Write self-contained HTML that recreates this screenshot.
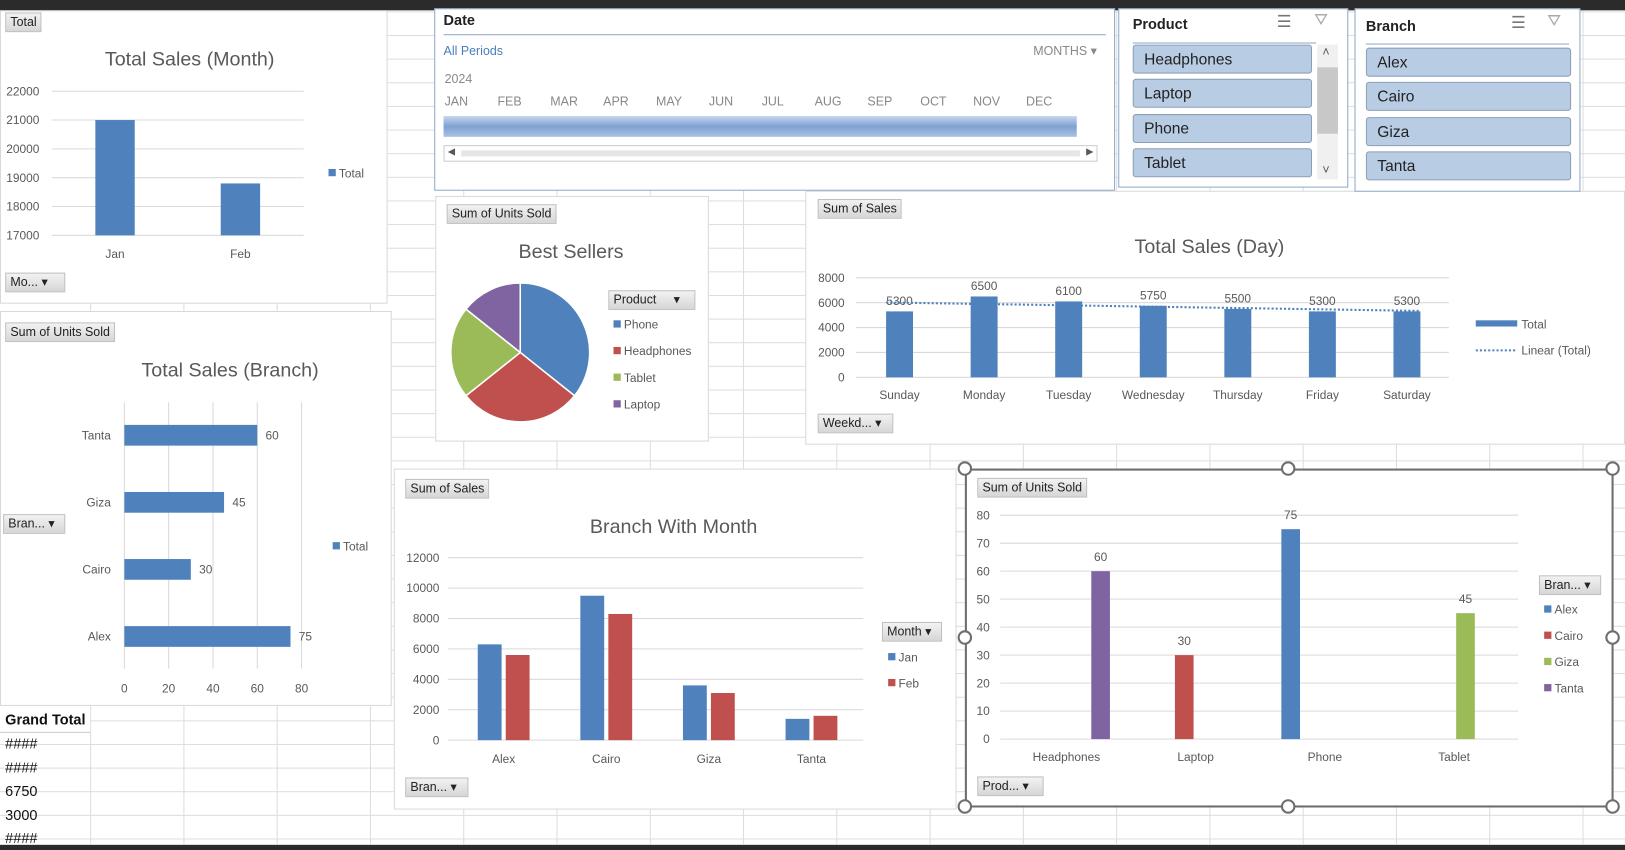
<!DOCTYPE html>
<html><head><meta charset="utf-8">
<style>
html,body{margin:0;padding:0;width:1625px;height:850px;overflow:hidden;background:#2b2b2b}
#stage{position:absolute;left:0;top:0;width:1568px;height:820px;transform:scale(1.03635,1.0366);transform-origin:0 0;font-family:"Liberation Sans",sans-serif;color:#595959}
#sheet{position:absolute;left:0;top:10px;width:1568px;height:805px;background-color:#fff;
background-image:linear-gradient(to right,#dcdcdc 1px,transparent 1px),linear-gradient(to bottom,#dcdcdc 1px,transparent 1px);
background-size:90px 22.8px;background-position:-3px 1px}
.panel{position:absolute;background:#fff;border:1px solid #d9d9d9;box-sizing:border-box}
.btn{position:absolute;background:linear-gradient(#f2f2f2,#d6d6d6);border:1px solid #bfbfbf;font-size:12px;color:#222;box-sizing:border-box;padding:1px 4px;line-height:15px;white-space:nowrap}
.slicer{position:absolute;background:#fff;border:1px solid #8fa9c9;box-sizing:border-box}
.item{position:absolute;background:#b8cce4;border:1px solid #8c9fb8;border-radius:3px;box-sizing:border-box;font-size:15px;color:#222;padding:5px 10px 0;height:28px;line-height:17px}
.hdr{position:absolute;font-weight:bold;font-size:14px;color:#222}
.cell{position:absolute;left:5px;font-size:14px;color:#111}
</style></head>
<body>
<div id="stage">
<div id="sheet"></div>

<div class="panel" style="left:0;top:10px;width:374px;height:283px"></div>
<div class="panel" style="left:0;top:300px;width:378px;height:381px"></div>
<div class="panel" style="left:420px;top:189px;width:264px;height:237px"></div>
<div class="panel" style="left:777px;top:184px;width:791px;height:245px"></div>
<div class="panel" style="left:380px;top:452px;width:543px;height:329px"></div>
<div class="panel" style="left:931px;top:452px;width:626px;height:327px;border:2px solid #6e6e6e"></div>

<div style="position:absolute;left:0;top:684px;width:87px;height:22px;background:#fff;border-bottom:1px solid #ccc"><span style="position:absolute;left:5px;top:2px;font-weight:bold;font-size:14px;color:#111">Grand Total</span></div>
<div class="cell" style="top:709px">####</div>
<div class="cell" style="top:732px">####</div>
<div class="cell" style="top:755px">6750</div>
<div class="cell" style="top:778px">3000</div>
<div class="cell" style="top:800px">####</div>

<div class="slicer" style="left:419px;top:8px;width:657px;height:176px">
 <div class="hdr" style="left:8px;top:2px">Date</div>
 <div style="position:absolute;left:8px;right:8px;top:24px;height:1px;background:#8fa9c9"></div>
 <div style="position:absolute;left:8px;top:33px;font-size:12px;color:#4a7ebb">All Periods</div>
 <div style="position:absolute;left:577px;top:33px;font-size:12px;color:#888">MONTHS ▾</div>
 <div style="position:absolute;left:9px;top:60px;font-size:12px;color:#888">2024</div>
 <div id="months" style="position:absolute;left:9px;top:82px;font-size:12px;color:#888"></div>
 <div style="position:absolute;left:8px;top:103px;width:611px;height:20px;background:linear-gradient(#c5d6ec,#7fa1d3 50%,#aac2e4)"></div>
 <div style="position:absolute;left:8px;top:131px;width:631px;height:16px;border:1px solid #ccc;box-sizing:border-box"><div style="position:absolute;left:16px;right:16px;top:4px;height:6px;background:#e6e6e6"></div><span style="position:absolute;left:3px;top:0;font-size:9px">◀</span><span style="position:absolute;right:3px;top:0;font-size:9px">▶</span></div>
</div>

<div class="slicer" style="left:1079px;top:8px;width:222px;height:173px">
 <div class="hdr" style="left:13px;top:6px">Product</div>
 <div style="position:absolute;left:152px;top:2px;font-size:16px;color:#777">☰</div>
 <div style="position:absolute;left:188px;top:2px;font-size:16px;color:#aaa">⛛</div>
 <div style="position:absolute;left:13px;right:30px;top:32px;height:1px;background:#8fa9c9"></div>
 <div class="item" style="left:13px;top:34px;width:173px">Headphones</div>
 <div class="item" style="left:13px;top:67px;width:173px">Laptop</div>
 <div class="item" style="left:13px;top:101px;width:173px">Phone</div>
 <div class="item" style="left:13px;top:134px;width:173px">Tablet</div>
 <div style="position:absolute;left:191px;top:34px;width:20px;height:130px;background:#f0f0f0"><div style="position:absolute;top:22px;left:0;width:20px;height:64px;background:#c8c8c8"></div><span style="position:absolute;left:5px;top:0;font-size:12px">˄</span><span style="position:absolute;left:5px;bottom:2px;font-size:12px">˅</span></div>
</div>

<div class="slicer" style="left:1307px;top:8px;width:218px;height:177px">
 <div class="hdr" style="left:10px;top:8px">Branch</div>
 <div style="position:absolute;left:150px;top:3px;font-size:16px;color:#777">☰</div>
 <div style="position:absolute;left:185px;top:3px;font-size:16px;color:#aaa">⛛</div>
 <div style="position:absolute;left:10px;right:10px;top:33px;height:1px;background:#8fa9c9"></div>
 <div class="item" style="left:10px;top:37px;width:198px">Alex</div>
 <div class="item" style="left:10px;top:70px;width:198px">Cairo</div>
 <div class="item" style="left:10px;top:104px;width:198px">Giza</div>
 <div class="item" style="left:10px;top:137px;width:198px">Tanta</div>
</div>

<div class="btn" style="left:5px;top:12px">Total</div>
<div class="btn" style="left:5px;top:263px;width:58px">Mo... ▾</div>
<div class="btn" style="left:5px;top:311px">Sum of Units Sold</div>
<div class="btn" style="left:3px;top:496px;width:60px">Bran... ▾</div>
<div class="btn" style="left:431px;top:197px">Sum of Units Sold</div>
<div class="btn" style="left:587px;top:280px;width:84px">Product &nbsp;&nbsp;&nbsp;&nbsp;▾</div>
<div class="btn" style="left:789px;top:192px">Sum of Sales</div>
<div class="btn" style="left:789px;top:399px;width:73px">Weekd... ▾</div>
<div class="btn" style="left:391px;top:462px">Sum of Sales</div>
<div class="btn" style="left:851px;top:600px;width:58px">Month ▾</div>
<div class="btn" style="left:391px;top:750px;width:61px">Bran... ▾</div>
<div class="btn" style="left:943px;top:461px">Sum of Units Sold</div>
<div class="btn" style="left:1485px;top:555px;width:60px">Bran... ▾</div>
<div class="btn" style="left:943px;top:749px;width:64px">Prod... ▾</div>

<svg id="charts" width="1568" height="820" style="position:absolute;left:0;top:0;font-family:'Liberation Sans',sans-serif"></svg>
</div>

<script>
const monthCats = ["Jan","Feb"];
const monthVals = [21000,18800];
const monthTicks = [17000,18000,19000,20000,21000,22000];
const branchCats = ["Alex","Cairo","Giza","Tanta"];
const branchUnits = [75,30,45,60];
const branchTicks = [0,20,40,60,80];
const pieCats = ["Phone","Headphones","Tablet","Laptop"];
const pieVals = [75,60,45,30];
const dayCats = ["Sunday","Monday","Tuesday","Wednesday","Thursday","Friday","Saturday"];
const dayVals = [5300,6500,6100,5750,5500,5300,5300];
const dayTicks = [0,2000,4000,6000,8000];
const bmCats = ["Alex","Cairo","Giza","Tanta"];
const bmJan = [6300,9500,3600,1400];
const bmFeb = [5600,8300,3100,1600];
const bmTicks = [0,2000,4000,6000,8000,10000,12000];
const upCats = ["Headphones","Laptop","Phone","Tablet"];
const upAlex = [0,0,75,0];
const upCairo = [0,30,0,0];
const upGiza = [0,0,0,45];
const upTanta = [60,0,0,0];
const upTicks = [0,10,20,30,40,50,60,70,80];
const monthsTL = ["JAN","FEB","MAR","APR","MAY","JUN","JUL","AUG","SEP","OCT","NOV","DEC"];

const BLUE="#4f81bd",RED="#c0504d",GREEN="#9bbb59",PURPLE="#8064a2",GRID="#d9d9d9",TXT="#595959",FS=11.5;
const svg=document.getElementById('charts');
const NS="http://www.w3.org/2000/svg";
function mk(tag,at,txt){const e=document.createElementNS(NS,tag);for(const k in at)e.setAttribute(k,at[k]);if(txt!==undefined)e.textContent=txt;svg.appendChild(e);return e;}
function lin(d0,d1,r0,r1){return v=>r0+(v-d0)*(r1-r0)/(d1-d0);}

const mdiv=document.getElementById('months');
monthsTL.forEach((m,i)=>{const s=document.createElement('span');s.textContent=m;s.style.position='absolute';s.style.left=(i*51)+'px';


mdiv.appendChild(s);});

function title(x,y,t,name){const e=mk('text',{x:x,y:y,'text-anchor':'middle','font-size':19,fill:TXT},t);

}
function legend(x,y,color,t,dotted){let e;
if(dotted){e=mk('line',{x1:x,y1:y-4,x2:x+40,y2:y-4,stroke:BLUE,'stroke-width':2,'stroke-dasharray':'2,2'});}
else if(dotted===false){e=mk('rect',{x:x,y:y-8,width:40,height:6,fill:color});}
else e=mk('rect',{x:x,y:y-8,width:7,height:7,fill:color});


const tx=mk('text',{x:x+(dotted!==undefined?44:10),y:y,'font-size':FS,fill:TXT},t);

}
function yAxis(ticks,y,xr,x0,x1,name){ticks.forEach(t=>{const g=mk('line',{x1:x0,y1:y(t),x2:x1,y2:y(t),stroke:GRID});


const l=mk('text',{x:xr,y:y(t)+4,'text-anchor':'end','font-size':FS,fill:TXT},t);

});}
function xLabel(x,y,t){const l=mk('text',{x:x,y:y,'text-anchor':'middle','font-size':FS,fill:TXT},t);

}

title(183,63,"Total Sales (Month)","month-chart-title");
{const y=lin(17000,22000,227,88);yAxis(monthTicks,y,38,50,293,'y-axis-tick');
const xc=i=>111+i*121;
monthVals.forEach((v,i)=>{const b=mk('rect',{x:xc(i)-19,y:y(v),width:38,height:y(17000)-y(v),fill:BLUE});


xLabel(xc(i),249,monthCats[i]);});
legend(317,171,BLUE,"Total");}

title(222,363,"Total Sales (Branch)","branch-chart-title");
{const x=lin(0,80,120,291);const yc=i=>614-i*64.7;
branchTicks.forEach(t=>{const g=mk('line',{x1:x(t),y1:388,x2:x(t),y2:645,stroke:GRID});


xLabel(x(t),668,t);});
branchUnits.forEach((v,i)=>{const b=mk('rect',{x:x(0),y:yc(i)-10,width:x(v)-x(0),height:20,fill:BLUE});


const l=mk('text',{x:x(v)+8,y:yc(i)+4,'font-size':FS,fill:TXT},v);


const c=mk('text',{x:107,y:yc(i)+4,'text-anchor':'end','font-size':FS,fill:TXT},branchCats[i]);

});
legend(321,531,BLUE,"Total");}

title(551,249,"Best Sellers","pie-chart-title");
{const cx=502,cy=340,r=67,tot=pieVals.reduce((a,b)=>a+b,0),cols=[BLUE,RED,GREEN,PURPLE];let a=0;
pieVals.forEach((v,i)=>{const a2=a+v/tot*2*Math.PI;
const p=(ang)=>[cx+r*Math.sin(ang),cy-r*Math.cos(ang)];const s=p(a),e=p(a2);
const sl=mk('path',{d:`M${cx},${cy}L${s[0]},${s[1]}A${r},${r} 0 ${a2-a>Math.PI?1:0} 1 ${e[0]},${e[1]}Z`,fill:cols[i],stroke:'#fff','stroke-width':1.5});


a=a2;
legend(592,317+i*25.7,cols[i],pieCats[i]);});}

title(1167,244,"Total Sales (Day)","day-chart-title");
{const y=lin(0,8000,364,268);yAxis(dayTicks,y,815,826,1398,'y-axis-tick');
const xc=i=>868+i*81.6;
dayVals.forEach((v,i)=>{const b=mk('rect',{x:xc(i)-13,y:y(v),width:26,height:y(0)-y(v),fill:BLUE});


const l=mk('text',{x:xc(i),y:y(v)-6,'text-anchor':'middle','font-size':FS,fill:TXT},v);


xLabel(xc(i),385,dayCats[i]);});
const n=dayVals.length,mx=(n-1)/2,my=dayVals.reduce((a,b)=>a+b,0)/n;let sxy=0,sxx=0;
dayVals.forEach((v,i)=>{sxy+=(i-mx)*(v-my);sxx+=(i-mx)*(i-mx);});const sl=sxy/sxx,ic=my-sl*mx;
const tl=mk('line',{x1:xc(0)-13,y1:y(ic-sl*0.16),x2:xc(n-1)+13,y2:y(ic+sl*(n-1+0.16)),stroke:BLUE,'stroke-width':2,'stroke-dasharray':'2,2'});


legend(1424,317,BLUE,"Total",false);legend(1424,342,BLUE,"Linear (Total)",true);}

title(650,514,"Branch With Month","branch-month-chart-title");
{const y=lin(0,12000,714,538);yAxis(bmTicks,y,424,432,833,'y-axis-tick');
const xc=i=>486+i*99;
bmCats.forEach((c,i)=>{[[bmJan,BLUE,-25,'jan'],[bmFeb,RED,2,'feb']].forEach(([arr,col,off,nm])=>{
const b=mk('rect',{x:xc(i)+off,y:y(arr[i]),width:23,height:y(0)-y(arr[i]),fill:col});

});
xLabel(xc(i),736,c);});
legend(857,638,BLUE,"Jan");legend(857,663,RED,"Feb");}

{const y=lin(0,80,713,497);yAxis(upTicks,y,955,965,1465,'y-axis-tick');
const xc=i=>1029+i*124.7;const series=[[upAlex,BLUE,-33,'Alex'],[upCairo,RED,-11,'Cairo'],[upGiza,GREEN,11,'Giza'],[upTanta,PURPLE,33,'Tanta']];
upCats.forEach((c,i)=>{series.forEach(([arr,col,off,nm])=>{if(arr[i]>0){
const b=mk('rect',{x:xc(i)+off-9,y:y(arr[i]),width:18,height:y(0)-y(arr[i]),fill:col});


const l=mk('text',{x:xc(i)+off,y:y(arr[i])-10,'text-anchor':'middle','font-size':FS,fill:TXT},arr[i]);

}});
xLabel(xc(i),734,c);});
series.forEach(([a,col,o,nm],k)=>legend(1490,592+k*25.3,col,nm));
[[931,452],[1243,452],[1556,452],[931,615],[1556,615],[931,778],[1243,778],[1556,778]].forEach(p=>{
const h=mk('circle',{cx:p[0],cy:p[1],r:6,fill:'#fff',stroke:'#6e6e6e','stroke-width':2});

});}
</script>
</body></html>
